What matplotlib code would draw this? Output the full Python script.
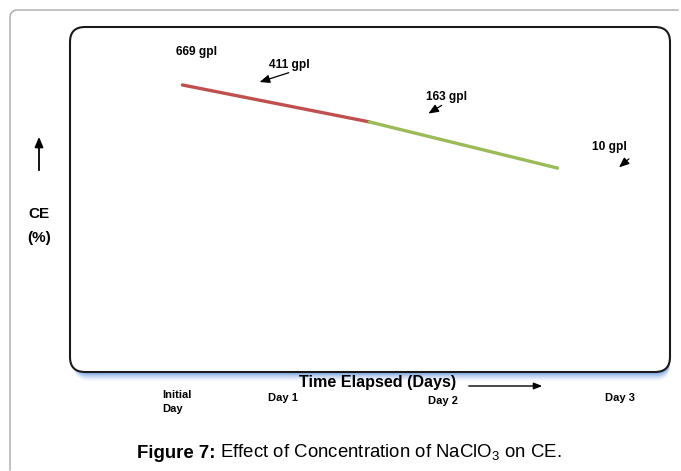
import matplotlib.pyplot as plt
from matplotlib.patches import FancyBboxPatch, FancyArrowPatch
from matplotlib.lines import Line2D
import numpy as np

plt.rcParams['font.family'] = ['Liberation Sans', 'DejaVu Sans']
plt.rcParams['mathtext.fontset'] = 'custom'
plt.rcParams['mathtext.rm'] = 'Liberation Sans'

# data (schematic, days elapsed vs CE %)
days = [0.05, 1.31, 2.58]
ce = [83.2, 72.5, 59.1]
seg_colors = ['#c0504d', '#9bbb59']

tick_pos = [-0.088, 0.73, 1.81, 3.0]
tick_labels = ['Initial\nDay', 'Day 1', 'Day 2', 'Day 3']

conc_labels = ['669 gpl', '411 gpl', '163 gpl', '10 gpl']
label_xy = [(0.148, 92.8), (0.769, 89.0), (1.834, 79.7), (2.927, 65.2)]
arrow_tail = [None, (0.785, 87.0), (1.814, 77.7), (3.075, 62.3)]
arrow_head = [None, (0.553, 83.8), (1.693, 74.5), (2.980, 58.8)]

W, H = 681, 471
fig = plt.figure(figsize=(W / 100, H / 100), dpi=100)

# outer light frame: only the top-left corner is on the page
rr = 7
ang = np.linspace(np.pi, np.pi / 2, 12)
cx, cy = 10 + rr, 10 + rr
xs = [10] + list(cx + rr * np.cos(ang)) + [W - 3]
ys = [H - 1] + list(cy - rr * np.sin(ang)) + [10]
fig.add_artist(Line2D([x / W for x in xs], [1 - y / H for y in ys],
                      transform=fig.transFigure, color='#a8a8a8', lw=1.0))

ax = fig.add_axes([70 / W, 1 - 372 / H, 600 / W, 345 / H])
ax.set_xlim(-0.708, 3.338)
ax.set_ylim(0, 100)
ax.axis('off')

asp = 600 / 345
# blue glow under the box
for i, a in enumerate([0.06, 0.09, 0.12, 0.16, 0.22, 0.3, 0.4]):
    off = (9 - i * 1.2) / 345
    sh = FancyBboxPatch((0.006, -off), 0.994, 1.0,
                        boxstyle='round,pad=0,rounding_size=0.025',
                        transform=ax.transAxes, facecolor='#6f9be0',
                        edgecolor='none', alpha=a, mutation_aspect=asp,
                        clip_on=False, zorder=0)
    ax.add_patch(sh)

box = FancyBboxPatch((0, 0), 1, 1, boxstyle='round,pad=0,rounding_size=0.025',
                     transform=ax.transAxes, facecolor='white',
                     edgecolor='#1a1a1a', lw=1.5, mutation_aspect=asp,
                     clip_on=False, zorder=1)
ax.add_patch(box)

for i in range(len(days) - 1):
    ax.plot(days[i:i + 2], ce[i:i + 2], color=seg_colors[i], lw=2.4,
            solid_capstyle='round', zorder=3)

for lab, xy, t, h in zip(conc_labels, label_xy, arrow_tail, arrow_head):
    ax.text(xy[0], xy[1], lab, ha='center', va='center', fontsize=8.6,
            fontweight='bold', zorder=4)
    if t is not None:
        ax.annotate('', xy=h, xytext=t,
                    arrowprops=dict(arrowstyle='-|>,head_length=0.6,head_width=0.25',
                                    color='black', lw=0.9), zorder=4)

trans = ax.get_xaxis_transform()
for pos, lab in zip(tick_pos, tick_labels):
    if '\n' in lab:
        ax.text(pos, -0.087, lab, transform=trans, ha='left', va='center',
                fontsize=8, fontweight='bold', linespacing=1.6)
    else:
        yy = -0.084 if lab == 'Day 2' else -0.075
        ax.text(pos, yy, lab, transform=trans, ha='center', va='center',
                fontsize=8, fontweight='bold')

# axis titles
fig.text(378 / W, 1 - 383 / H, 'Time Elapsed (Days)', ha='center', va='center',
         fontsize=11.6, fontweight='bold')
fig.add_artist(FancyArrowPatch(
    (466 / W, 1 - 386 / H), (545 / W, 1 - 386 / H), transform=fig.transFigure,
    arrowstyle='-|>,head_length=0.5,head_width=0.2', color='black', lw=1.0,
    mutation_scale=10))
fig.add_artist(FancyArrowPatch(
    (39 / W, 1 - 173 / H), (39 / W, 1 - 134 / H), transform=fig.transFigure,
    arrowstyle='-|>,head_length=0.6,head_width=0.25', color='black', lw=1.3,
    mutation_scale=10))
fig.text(39 / W, 1 - 214 / H, 'CE', ha='center', va='center', fontsize=11,
         fontweight='bold')
fig.text(39 / W, 1 - 238 / H, '(%)', ha='center', va='center', fontsize=11,
         fontweight='bold')

# caption: bold part then regular part
r = fig.canvas.get_renderer()
cap_y = 1 - 453 / H
t1 = fig.text(0, cap_y, 'Figure 7:', ha='left', va='center', fontsize=13.4,
              fontweight='bold')
t2 = fig.text(0, cap_y, r' Effect of Concentration of NaClO$_3$ on CE.',
              ha='left', va='center', fontsize=13.4)
w1 = t1.get_window_extent(r).width
w2 = t2.get_window_extent(r).width
x0 = 349.5 - (w1 + w2) / 2
t1.set_x(x0 / W)
t2.set_x((x0 + w1) / W)

fig.savefig('out.png', dpi=100)
